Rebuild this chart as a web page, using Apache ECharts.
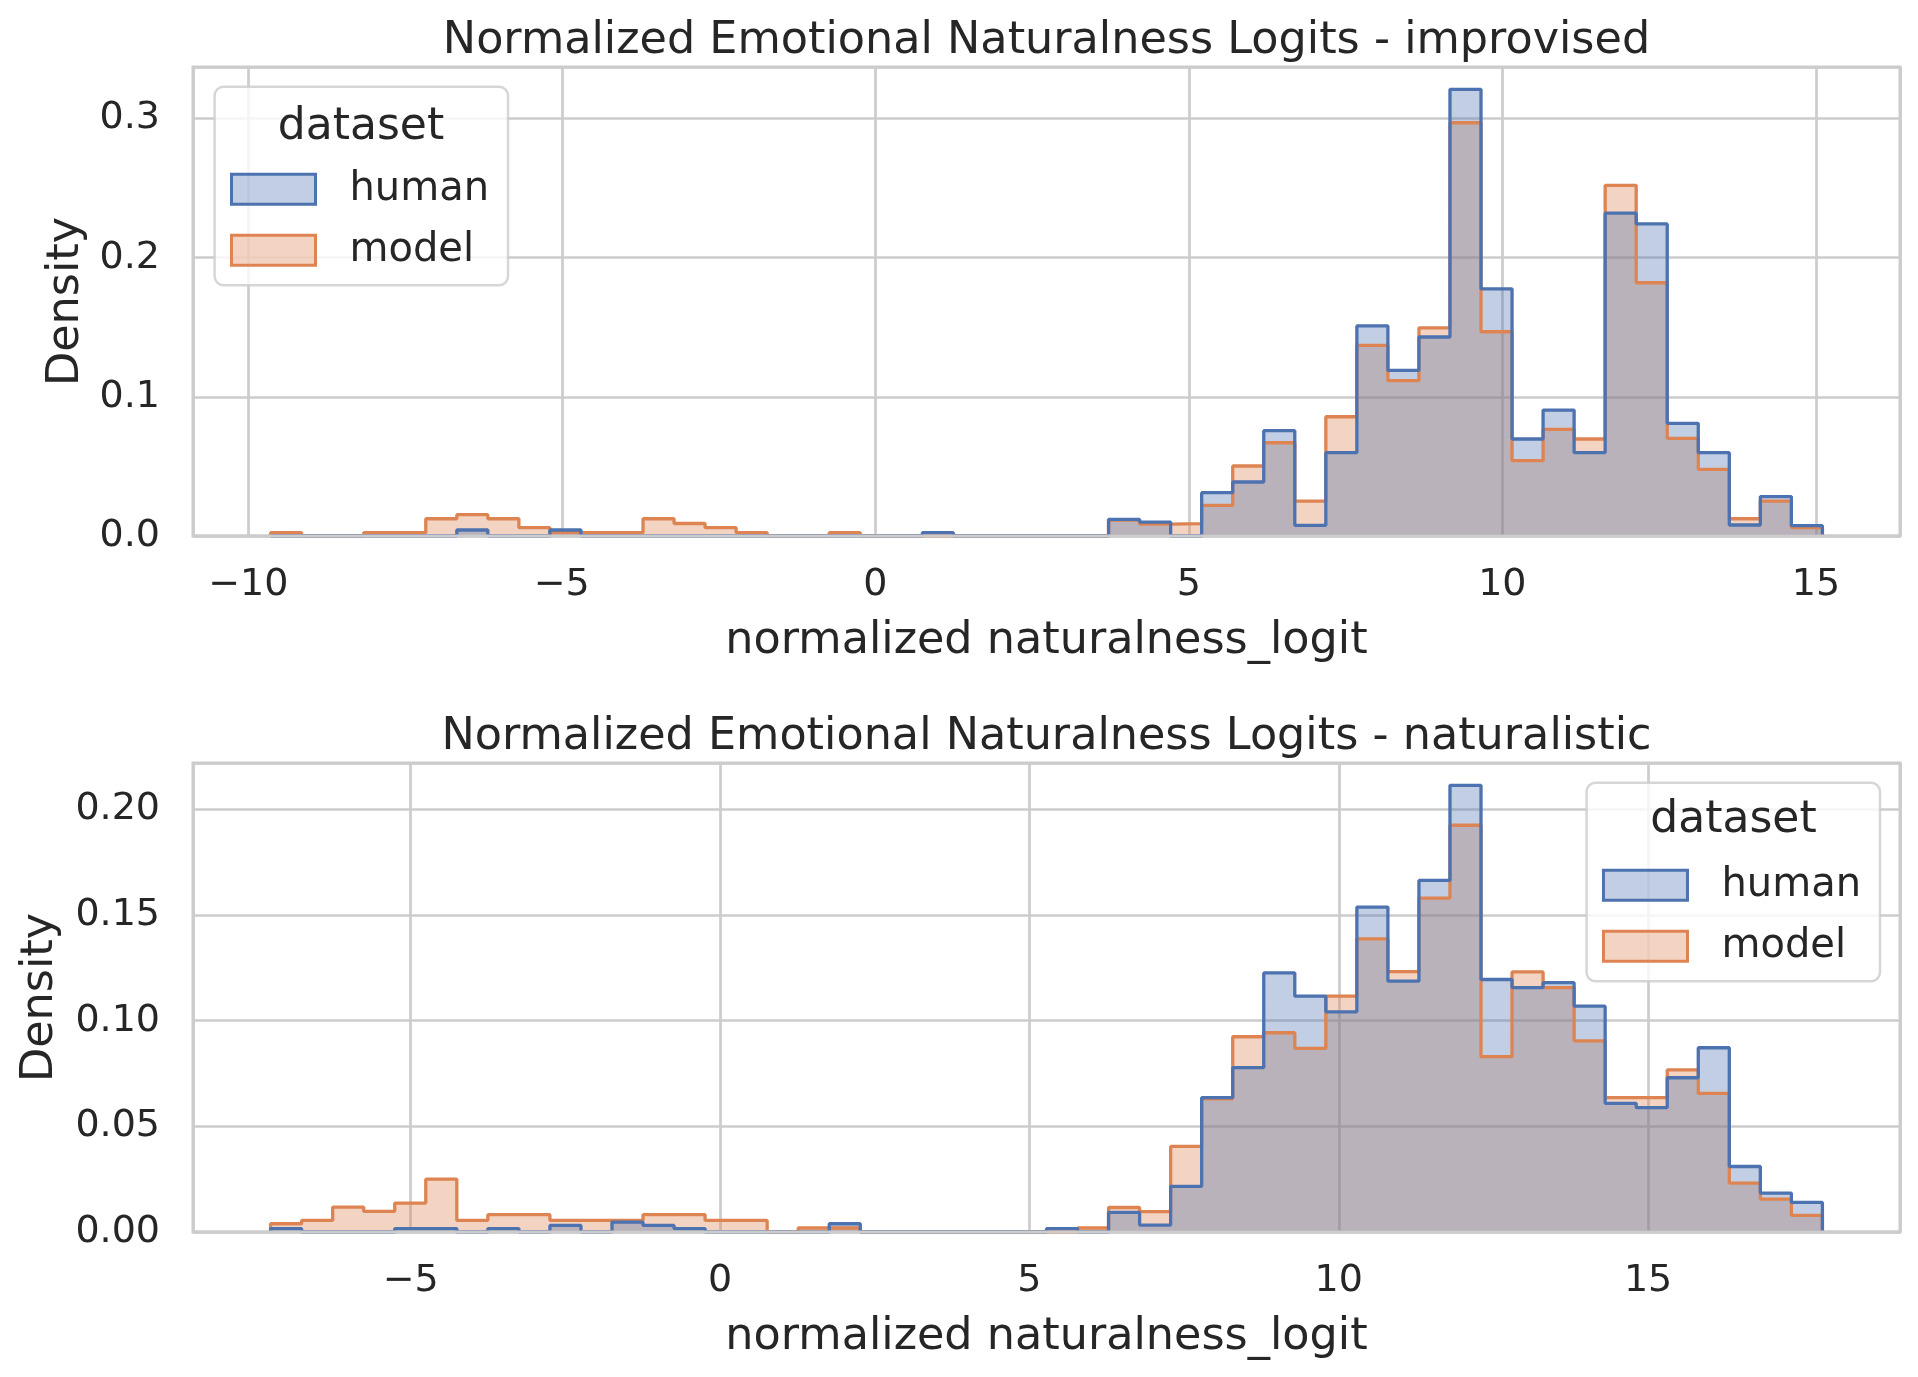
<!DOCTYPE html>
<html>
<head>
<meta charset="utf-8">
<title>Normalized Emotional Naturalness Logits</title>
<script src="https://cdn.jsdelivr.net/npm/echarts@6/dist/echarts.min.js"></script>
<style>
  html, body { margin: 0; padding: 0; background: #ffffff; }
  #chart { width: 1918px; height: 1377px; }
</style>
</head>
<body>
<div id="chart"></div>
<script>
// 50 common bins per panel: [first left edge, last right edge]
const improvisedRange = [-9.644, 15.104];
const naturalisticRange = [-7.265, 17.817];

// density per bin
const improvisedHuman = [
  0, 0, 0, 0, 0, 0, 0.0043, 0, 0, 0.0043,
  0, 0, 0, 0, 0, 0, 0, 0, 0, 0,
  0, 0.0024, 0, 0, 0, 0, 0, 0.0120, 0.0100, 0,
  0.0311, 0.0388, 0.0757, 0.0077, 0.0599, 0.1510, 0.1190, 0.1430, 0.3210, 0.1776,
  0.0697, 0.0905, 0.0599, 0.2320, 0.2243, 0.0810, 0.0599, 0.0079, 0.0283, 0.0074
];
const improvisedModel = [
  0.0024, 0, 0, 0.0024, 0.0024, 0.0124, 0.0153, 0.0124, 0.0060, 0.0024,
  0.0024, 0.0024, 0.0124, 0.0090, 0.0060, 0.0024, 0, 0, 0.0024, 0,
  0, 0, 0, 0, 0, 0, 0, 0.0115, 0.0086, 0.0089,
  0.0220, 0.0503, 0.0670, 0.0251, 0.0857, 0.1370, 0.1116, 0.1496, 0.2970, 0.1468,
  0.0541, 0.0766, 0.0697, 0.2520, 0.1820, 0.0701, 0.0479, 0.0124, 0.0251, 0.0060
];
const naturalisticHuman = [
  0.0016, 0, 0, 0, 0.0016, 0.0016, 0, 0.0016, 0, 0.0031,
  0, 0.0047, 0.0031, 0.0016, 0, 0, 0, 0, 0.0039, 0,
  0, 0, 0, 0, 0, 0.0016, 0, 0.0093, 0.0033, 0.0216,
  0.0636, 0.0778, 0.1226, 0.1116, 0.1042, 0.1538, 0.1187, 0.1664, 0.2114, 0.1195,
  0.1157, 0.1180, 0.1069, 0.0609, 0.0589, 0.0730, 0.0872, 0.0310, 0.0184, 0.0140
];
const naturalisticModel = [
  0.0039, 0.0055, 0.0118, 0.0098, 0.0137, 0.0250, 0.0055, 0.0082, 0.0082, 0.0055,
  0.0055, 0.0055, 0.0082, 0.0082, 0.0055, 0.0055, 0, 0.0019, 0.0019, 0,
  0, 0, 0, 0, 0, 0, 0.0019, 0.0116, 0.0096, 0.0405,
  0.0630, 0.0924, 0.0943, 0.0869, 0.1116, 0.1387, 0.1232, 0.1580, 0.1925, 0.0830,
  0.1231, 0.1157, 0.0905, 0.0636, 0.0636, 0.0767, 0.0656, 0.0231, 0.0156, 0.0079
];

// tick labels
const improvisedXTicks = [-10, -5, 0, 5, 10, 15];
const improvisedYTicks = [0, 0.1, 0.2, 0.3];
const naturalisticXTicks = [-5, 0, 5, 10, 15];
const naturalisticYTicks = [0, 0.05, 0.10, 0.15, 0.20];

const FONT = "'DejaVu Sans', sans-serif";
const INK = '#262626';
const GRIDC = '#cccccc';
const HUMAN = '#4c72b0', HUMAN_FILL = 'rgba(76,114,176,0.35)';
const MODEL = '#dd8452', MODEL_FILL = 'rgba(221,132,82,0.35)';

// step outline points: up at first edge, flat over each bin, down at last edge
function stepData(range, heights) {
  const n = heights.length;
  const w = (range[1] - range[0]) / n;
  const pts = [[range[0], 0]];
  heights.forEach((h, i) => pts.push([range[0] + i * w, h]));
  pts.push([range[1], heights[n - 1]], [range[1], 0]);
  return pts;
}

function tickFormatter(ticks, digits) {
  return function (v) {
    const t = ticks.find(t => Math.abs(t - v) < 1e-6);
    if (t === undefined) return '';
    return (t < 0 ? '\u2212' : '') + Math.abs(t).toFixed(digits);
  };
}

function histSeries(name, idx, range, heights, color, fill) {
  return {
    name: name, type: 'line', xAxisIndex: idx, yAxisIndex: idx,
    step: 'end', symbol: 'none', data: stepData(range, heights),
    lineStyle: { color: color, width: 3.3 },
    itemStyle: { color: color },
    areaStyle: { color: fill, opacity: 1 },
    emphasis: { disabled: true }
  };
}

// light grey bottom spine drawn above the fills, like matplotlib
function spineSeries(idx, xr) {
  return {
    type: 'line', xAxisIndex: idx, yAxisIndex: idx, data: [[xr[0], 0], [xr[1], 0]],
    symbol: 'none', lineStyle: { color: GRIDC, width: 3 }, z: 5, silent: true, clip: false
  };
}

const panels = [
  { range: improvisedRange, human: improvisedHuman, model: improvisedModel, xt: improvisedXTicks, yt: improvisedYTicks, yd: 1, ysplit: 3, top: 67, nameGap: 102,
    title: 'Normalized Emotional Naturalness Logits - improvised' },
  { range: naturalisticRange, human: naturalisticHuman, model: naturalisticModel, xt: naturalisticXTicks, yt: naturalisticYTicks, yd: 2, ysplit: 5, top: 763, nameGap: 130,
    title: 'Normalized Emotional Naturalness Logits - naturalistic' }
];

const grids = [], xAxes = [], yAxes = [], series = [], titles = [];
panels.forEach((p, i) => {
  const span = p.range[1] - p.range[0];
  const xr = [p.range[0] - 0.05 * span, p.range[1] + 0.05 * span];
  const ymax = 1.05 * Math.max(...p.human, ...p.model);
  grids.push({ left: 193, top: p.top, width: 1707, height: 469, show: true,
    borderColor: GRIDC, borderWidth: 3, backgroundColor: 'transparent' });
  titles.push({ text: p.title, left: 1046.5, top: p.top - 48, textAlign: 'center', padding: 0,
    textStyle: { fontSize: 44.5, fontWeight: 'normal', color: INK, fontFamily: FONT } });
  xAxes.push({
    type: 'value', gridIndex: i, min: xr[0], max: xr[1], splitNumber: 5,
    axisLine: { show: false }, axisTick: { show: false },
    splitLine: { show: true, lineStyle: { color: GRIDC, width: 2.7 } },
    axisLabel: { fontSize: 38, color: INK, fontFamily: FONT, margin: 30, formatter: tickFormatter(p.xt, 0) },
    name: 'normalized naturalness_logit', nameLocation: 'middle', nameGap: 83,
    nameTextStyle: { fontSize: 44.5, color: INK, fontFamily: FONT }
  });
  yAxes.push({
    type: 'value', gridIndex: i, min: 0, max: ymax, splitNumber: p.ysplit,
    axisLine: { show: false }, axisTick: { show: false },
    splitLine: { show: true, lineStyle: { color: GRIDC, width: 2.7 } },
    axisLabel: { fontSize: 38, color: INK, fontFamily: FONT, margin: 33, formatter: tickFormatter(p.yt, p.yd) },
    name: 'Density', nameLocation: 'middle', nameGap: p.nameGap,
    nameTextStyle: { fontSize: 44.5, color: INK, fontFamily: FONT }
  });
  series.push(histSeries('model', i, p.range, p.model, MODEL, MODEL_FILL));
  series.push(histSeries('human', i, p.range, p.human, HUMAN, HUMAN_FILL));
  series.push(spineSeries(i, xr));
});

const legendItems = [
  { name: 'human', itemStyle: { color: HUMAN_FILL, borderColor: HUMAN, borderWidth: 3 } },
  { name: 'model', itemStyle: { color: MODEL_FILL, borderColor: MODEL, borderWidth: 3 } }
];
function legendBox(pos) {
  return Object.assign({
    orient: 'vertical', data: legendItems, icon: 'rect', selectedMode: false,
    itemWidth: 84, itemHeight: 30, itemGap: 21,
    textStyle: { fontSize: 40, color: INK, fontFamily: FONT, lineHeight: 30, padding: [0, 0, 0, 29] },
    padding: [82.6, 19, 15, 15.4],
    backgroundColor: 'rgba(255,255,255,0.8)', borderColor: 'rgba(204,204,204,0.8)',
    borderWidth: 2.5, borderRadius: 9
  }, pos);
}

const chart = echarts.init(document.getElementById('chart'));
chart.setOption({
  animation: false,
  textStyle: { fontFamily: FONT },
  title: titles,
  grid: grids,
  xAxis: xAxes,
  yAxis: yAxes,
  legend: [legendBox({ left: 214.6, top: 86.7 }), legendBox({ right: 38, top: 782.7 })],
  graphic: [
    { type: 'text', x: 361, y: 127.5, z: 10, silent: true,
      style: { text: 'dataset', fontSize: 44, fill: INK, fontFamily: FONT, align: 'center', verticalAlign: 'middle' } },
    { type: 'text', x: 1733.5, y: 821, z: 10, silent: true,
      style: { text: 'dataset', fontSize: 44, fill: INK, fontFamily: FONT, align: 'center', verticalAlign: 'middle' } }
  ],
  series: series
});
</script>
</body>
</html>
